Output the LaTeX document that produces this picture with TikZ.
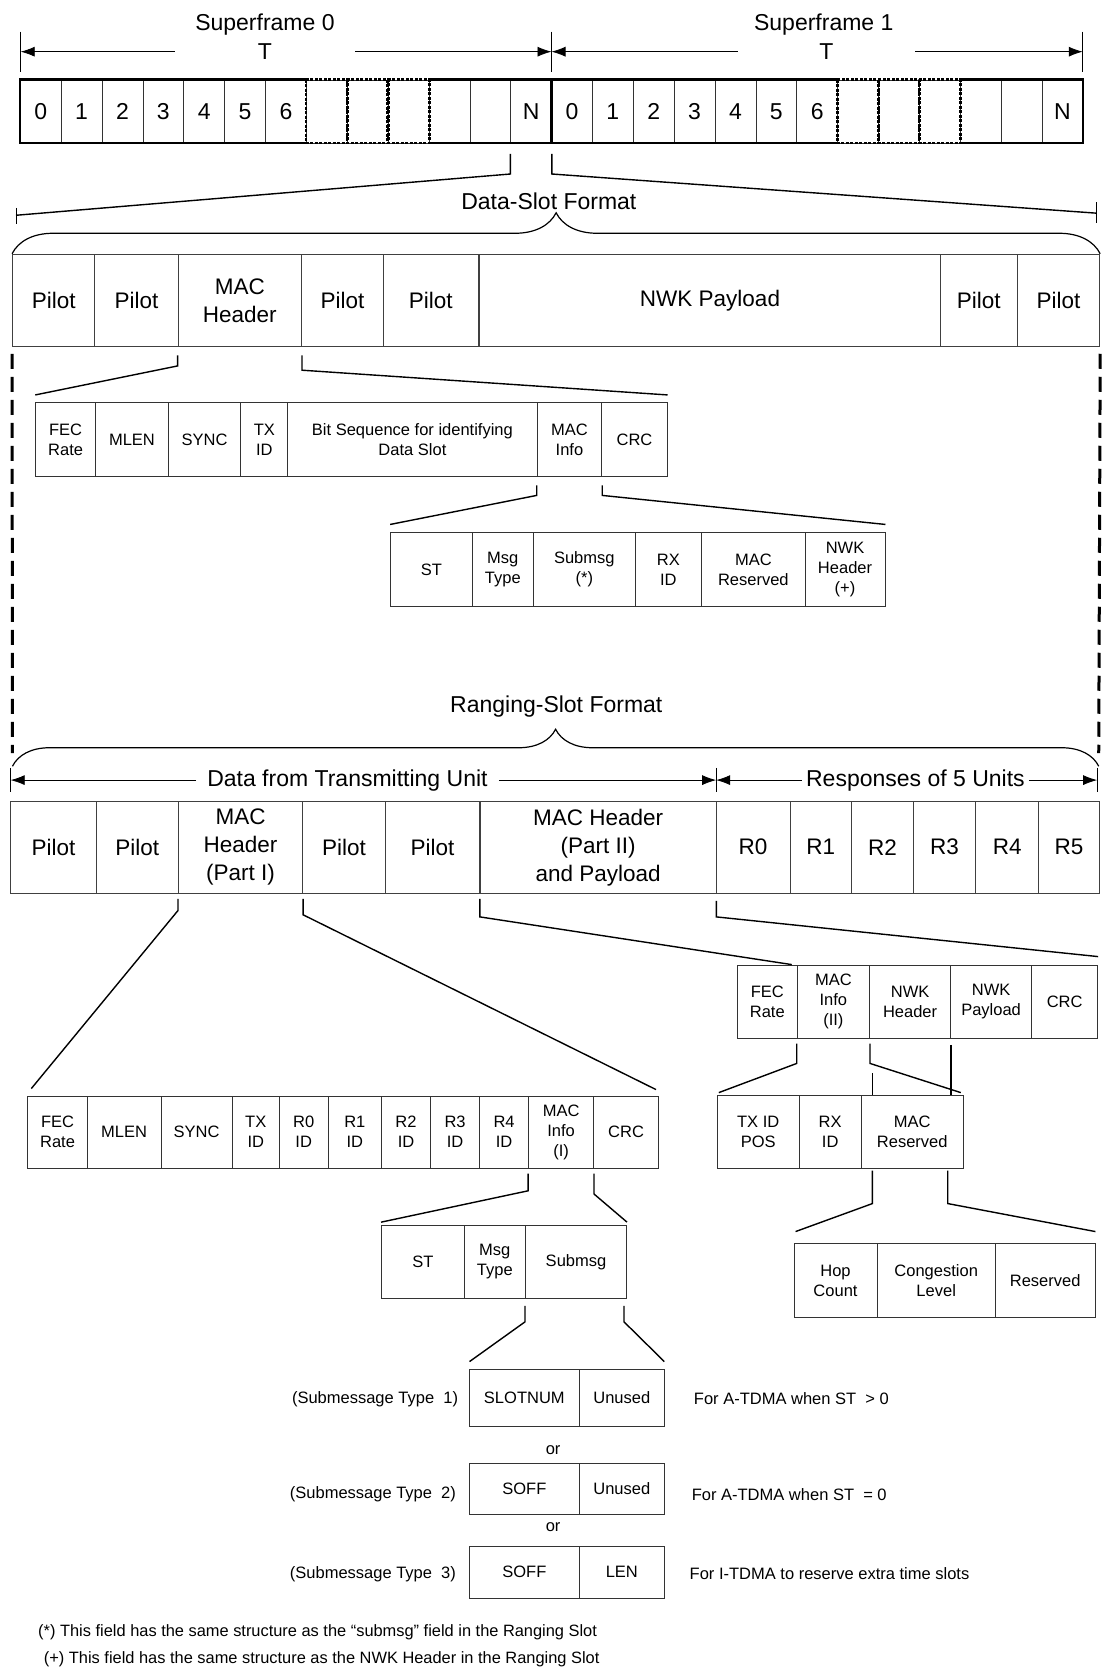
\documentclass[tikz,border=0pt]{standalone}
\usepackage{fontspec}
\setmainfont{Liberation Sans}
\usetikzlibrary{arrows.meta,decorations.pathreplacing}
\tikzset{
  extent/.style n args={4}{minimum width={(#2-#1)*1.0657pt}, minimum height={(#4-#3)*1.0657pt},
    at={({(#1+#2)/2},{(#3+#4)/2})}},
  cell/.style={draw=black!80, line width=0.6pt, inner sep=0pt, font=\fontsize{23}{26}\selectfont},
  bigfield/.style={draw=black!75, line width=0.8pt, inner sep=0pt, align=center, font=\fontsize{22.5}{28}\selectfont},
  field/.style={draw=black!80, line width=0.8pt, inner sep=0pt, align=center, font=\fontsize{16.5}{20}\selectfont},
  caption/.style={inner sep=0pt, font=\fontsize{23}{26}\selectfont},
  note/.style={inner sep=0pt, font=\fontsize{16.5}{19}\selectfont},
  zoomline/.style={line width=1.4pt},
  tickline/.style={line width=0.8pt},
  dimarrow/.style={line width=0.8pt, -{Latex[length=14pt,width=10pt]}},
  framebox/.style={line width=2.6pt},
  gapcell/.style={line width=2.6pt, dash pattern=on 3pt off 1.5pt},
  slotdash/.style={line width=3pt, dash pattern=on 15pt off 8pt},
  curly/.style={decorate, line width=1.2pt},
}
\begin{document}
\begin{tikzpicture}[x=1.0657pt, y=-1.0657pt]
\useasboundingbox (0,0) rectangle (1050,1568);
% superframes
\coordinate (t0) at (19.4,48.5);
\coordinate (t1) at (517.5,48.5);
\coordinate (t2) at (1016,48.5);
\node[caption] (sf0name) at (248.6,23.5) {Superframe 0};
\node[caption] (sf1name) at (773,23.5) {Superframe 1};
\node[caption, minimum width={169*1.0657pt}] (sf0T) at (248.6,48.5) {T};
\node[caption, minimum width={166*1.0657pt}] (sf1T) at (775.5,48.5) {T};
\draw[dimarrow] (sf0T) -- (t0);
\draw[dimarrow] (sf0T) -- (t1);
\draw[dimarrow] (sf1T) -- (t1);
\draw[dimarrow] (sf1T) -- (t2);
\foreach \c in {t0,t1,t2}
  \draw[tickline] (\c) ++(0,-18.8) -- ++(0,37.6);
\foreach \s in {0,1} {
  \foreach \i/\lab in {0/0,1/1,2/2,3/3,4/4,5/5,6/6,7/{},8/{},9/{},10/{},11/{},12/N} {
    \pgfmathsetmacro{\xa}{19+\s*498.55+\i*38.35}
    \pgfmathsetmacro{\xb}{\xa+38.35}
    \node[cell, extent={\xa}{\xb}{75}{134}] (sf\s-\i) {\lab};
  }
  \draw[framebox] (sf\s-7.north west) -- (sf\s-0.north west) -- (sf\s-0.south west) -- (sf\s-7.south west);
  \draw[framebox] (sf\s-10.north west) -- (sf\s-12.north east) -- (sf\s-12.south east) -- (sf\s-10.south west);
  \foreach \i in {7,8,9}
    \draw[gapcell] (sf\s-\i.north west) rectangle (sf\s-\i.south east);
}
% data slot
\coordinate (dsL) at (15,202);
\coordinate (dsR) at (1028.5,200);
\draw[zoomline] (sf0-12.south west) ++(0,10) -- ++(0,19) -- (dsL);
\draw[zoomline] (sf0-12.south east) ++(0,10) -- ++(0,19) -- (dsR);
\draw[tickline] (dsL) ++(0,-7) -- ++(0,15);
\draw[tickline] (dsR) ++(0,-10) -- ++(0,19);
\node[caption] (dsname) at (515,189) {Data-Slot Format};
\foreach \name/\xa/\xb/\txt in {
  ds1/11.7/89/Pilot, ds2/89/167/Pilot, ds3/167/283/{MAC\\Header},
  ds4/283/360/Pilot, ds5/360/448.6/Pilot, ds6/450/882.5/{NWK Payload},
  ds7/882.5/954.5/Pilot, ds8/954.5/1032/Pilot}
  \node[bigfield, extent={\xa}{\xb}{238.5}{325}] (\name) {\txt};
\draw[curly, decoration={brace, amplitude=41pt}] (ds1.north west) -- (ds8.north east);
\foreach \name/\xa/\xb/\txt in {
  fec/33.5/89.6/{FEC\\Rate}, mlen/89.6/158/MLEN, sync/158/226/SYNC,
  txid/226/270/{TX\\ID}, bits/270/504/{Bit Sequence for identifying\\Data Slot},
  macinfo/504/564.7/{MAC\\Info}, crc/564.7/626/CRC}
  \node[field, extent={\xa}{\xb}{378}{447}] (\name) {\txt};
\foreach \name/\xa/\xb/\txt in {
  st/366.5/443/ST, mtype/443/500.6/{Msg\\Type}, smsg/500.6/596/{Submsg\\(*)},
  rxid/596/658.4/{RX\\ID}, mres/658.4/755.4/{MAC\\Reserved},
  nhdr/755.4/830.5/{NWK\\Header\\(+)}}
  \node[field, extent={\xa}{\xb}{500}{569}] (\name) {\txt};
\draw[zoomline] (ds3.south west) ++(0,8) -- ++(0,10) -- ([yshift=7.5pt]fec.north west);
\draw[zoomline] (ds3.south east) ++(0,8) -- ++(0,14) -- ([yshift=7.5pt]crc.north east);
\draw[zoomline] (macinfo.south west) ++(0,8) -- ++(0,9.5) -- ([yshift=8pt]st.north west);
\draw[zoomline] (macinfo.south east) ++(0,8) -- ++(0,9.5) -- ([yshift=8pt]nhdr.north east);
% ranging slot
\coordinate (rbL) at (11.7,719);
\coordinate (rbR) at (1031,719);
\draw[slotdash] ([yshift=-7pt]ds1.south west) -- ([yshift=13pt]rbL);
\draw[slotdash] ([yshift=-7pt]ds8.south east) -- ([yshift=13pt]rbR);
\draw[curly, decoration={brace, amplitude=37pt}] (rbL) -- (rbR);
\node[caption] (rsname) at (522,663) {Ranging-Slot Format};
\coordinate (ra0) at (10,732);
\coordinate (ra1) at (672,732);
\coordinate (ra2) at (1029.5,732);
\node[caption, inner xsep=11pt] (dftu) at (326,732) {Data from Transmitting Unit};
\node[caption, inner xsep=4pt] (resp) at (859,732) {Responses of 5 Units};
\draw[dimarrow] (dftu) -- (ra0);
\draw[dimarrow] (dftu) -- (ra1);
\draw[dimarrow] (resp) -- (ra1);
\draw[dimarrow] (resp) -- (ra2);
\foreach \c in {ra0,ra1,ra2}
  \draw[tickline] (\c) ++(0,-11.4) -- ++(0,22.4);
\foreach \name/\xa/\xb/\txt in {
  rg1/10/90.4/Pilot, rg2/90.4/167.4/Pilot, rg3/167.4/284/{MAC\\Header\\(Part I)},
  rg4/284/361.6/Pilot, rg5/361.6/450/Pilot, rg6/450.7/671.8/{MAC Header\\(Part II)\\and Payload},
  r0/671.8/741.4/R0, r1/741.4/799/R1, r2/799/857/R2, r3/857/915.6/R3,
  r4/915.6/974.5/R4, r5/974.5/1031.5/R5}
  \node[bigfield, extent={\xa}{\xb}{752}{838}] (\name) {\txt};
% MAC header part I
\foreach \name/\xa/\xb/\txt in {
  rfec/26/82/{FEC\\Rate}, rmlen/82/151/MLEN, rsync/151/218/SYNC,
  rtx/218/262/{TX\\ID}, rr0/262/308/{R0\\ID}, rr1/308/358/{R1\\ID},
  rr2/358/404/{R2\\ID}, rr3/404/450/{R3\\ID}, rr4/450/496/{R4\\ID},
  rmi/496/557/{MAC\\Info\\(I)}, rcrc/557/618/CRC}
  \node[field, extent={\xa}{\xb}{1028.4}{1096}] (\name) {\txt};
\foreach \name/\xa/\xb/\txt in {
  st2/358/435.6/ST, mtype2/435.6/493/{Msg\\Type}, smsg2/493/588/Submsg}
  \node[field, extent={\xa}{\xb}{1150}{1218}] (\name) {\txt};
% MAC header part II
\foreach \name/\xa/\xb/\txt in {
  fec3/692/748/{FEC\\Rate}, mi2/748/816/{MAC\\Info\\(II)},
  nh/816/892/{NWK\\Header}, np/892/968/{NWK\\Payload}, crc3/968/1030/CRC}
  \node[field, extent={\xa}{\xb}{905.5}{974}] (\name) {\txt};
\foreach \name/\xa/\xb/\txt in {
  txpos/673/750/{TX ID\\POS}, rx3/750/808/{RX\\ID}, mres3/808/904/{MAC\\Reserved}}
  \node[field, extent={\xa}{\xb}{1027.5}{1096}] (\name) {\txt};
\foreach \name/\xa/\xb/\txt in {
  hop/745/823/{Hop\\Count}, cong/823/934/{Congestion\\Level}, resv/934/1027.5/Reserved}
  \node[field, extent={\xa}{\xb}{1167}{1236}] (\name) {\txt};
% submessages
\foreach \name/\xa/\xb/\ya/\yb/\txt in {
  t1a/440/544/1284.6/1338/SLOTNUM, t1b/544/623/1284.6/1338/Unused,
  t2a/440/544/1372.8/1420.7/SOFF, t2b/544/623/1372.8/1420.7/Unused,
  t3a/440/544/1450.7/1499.5/SOFF, t3b/544/623/1450.7/1499.5/LEN}
  \node[field, extent={\xa}{\xb}{\ya}{\yb}] (\name) {\txt};
\node[note, anchor=east] (lab1) at (430,1312.8) {(Submessage Type~~1)};
\node[note, anchor=east] (lab2) at (428,1402) {(Submessage Type~~2)};
\node[note, anchor=east] (lab3) at (428,1477) {(Submessage Type~~3)};
\node[note, anchor=west] (use1) at (651,1312.8) {For A-TDMA when ST~ > 0};
\node[note, anchor=west] (use2) at (649,1402) {For A-TDMA when ST~ = 0};
\node[note, anchor=west] (use3) at (647,1477) {For I-TDMA to reserve extra time slots};
\node[note] (or1) at (519,1360.6) {or};
\node[note] (or2) at (519,1432.8) {or};
% connectors
\draw[zoomline] (rg3.south west) ++(0,5) -- ++(0,11) -- ([xshift=4pt,yshift=7pt]rfec.north west);
\draw[zoomline] (rg3.south east) ++(0,5) -- ++(0,15) -- ([xshift=-3pt,yshift=6pt]rcrc.north east);
\draw[zoomline] (rg6.south west) ++(0,5) -- ++(0,17) -- ([xshift=-5pt]mi2.north west);
\draw[zoomline] (rg6.south east) ++(0,7) -- ++(0,15) -- ([yshift=8pt]crc3.north east);
\draw[zoomline] (mi2.south west) ++(0,5) -- ++(0,18.5) -- ([xshift=2pt,yshift=2pt]txpos.north west);
\draw[zoomline] (mi2.south east) ++(0,5) -- ++(0,18.5) -- ([xshift=-3pt,yshift=2pt]mres3.north east);
\draw[zoomline] (nh.south east) ++(0,6) -- (nh.south east |- mres3.north);
\draw[zoomline] ([xshift=11.7pt]mres3.north west) -- ++(0,-20.5);
\draw[zoomline] ([xshift=11.7pt]mres3.south west) ++(0,2) -- ++(0,31) -- ([xshift=2pt,yshift=11.7pt]hop.north west);
\draw[zoomline] ([xshift=-16pt]mres3.south east) ++(0,2) -- ++(0,31) -- ([yshift=11.7pt]resv.north east);
\draw[zoomline] (rmi.south west) ++(0,5) -- ++(0,16) -- ([yshift=3pt]st2.north west);
\draw[zoomline] (rmi.south east) ++(0,5) -- ++(0,19) -- ([yshift=3pt]smsg2.north east);
\draw[zoomline] (smsg2.south west) ++(0,7) -- ++(0,15) -- ([xshift=1pt,yshift=7pt]t1a.north west);
\draw[zoomline] ([xshift=-3pt]smsg2.south east) ++(0,7) -- ++(0,15) -- ([yshift=7pt]t1b.north east);
% footnotes
\node[note, anchor=west, font=\fontsize{16.4}{19}\selectfont] (fn1) at (35.7,1532) {(*) This field has the same structure as the “submsg” field in the Ranging Slot};
\node[note, anchor=west, font=\fontsize{16.4}{19}\selectfont] (fn2) at (41,1557) {(+) This field has the same structure as the NWK Header in the Ranging Slot};
\end{tikzpicture}
\end{document}
